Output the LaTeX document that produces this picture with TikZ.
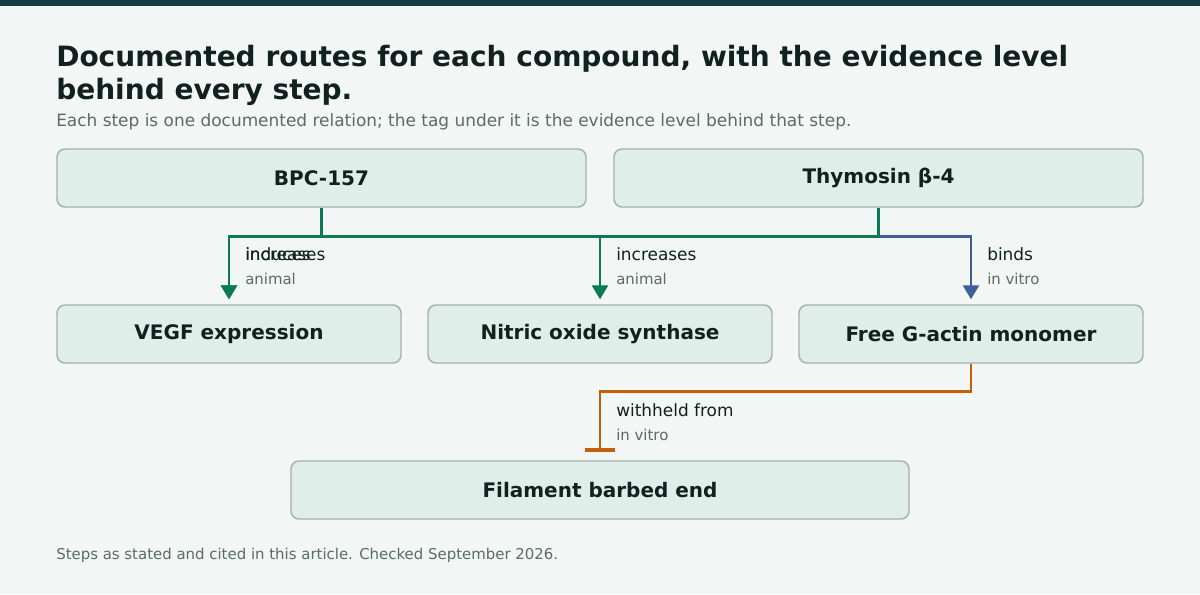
\documentclass[tikz,border=0pt]{standalone}
\usepackage{fontspec}
\setmainfont{DejaVu Sans}
\usetikzlibrary{arrows.meta}

\definecolor{pagebg}{HTML}{F2F6F4}
\definecolor{topbar}{HTML}{153D40}
\definecolor{boxfill}{HTML}{E0EEEA}
\definecolor{boxline}{HTML}{A6B0AC}
\definecolor{inktext}{HTML}{10211E}
\definecolor{graytext}{HTML}{5C6B67}
\definecolor{greenline}{HTML}{0A7A58}
\definecolor{blueline}{HTML}{3F5F98}
\definecolor{orangeline}{HTML}{C2600C}

\tikzset{
    entity/.style={draw=boxline, line width=1.1pt, fill=boxfill, rounded corners=6pt,
        minimum height=43.5pt, text=inktext, font=\fontsize{15}{18}\selectfont\bfseries},
    relation/.style={anchor=base west, inner sep=0pt, text=inktext, font=\fontsize{12.7}{15}\selectfont},
    evidence/.style={anchor=base west, inner sep=0pt, text=graytext, font=\fontsize{11.2}{13}\selectfont},
    pathline/.style={line width=2pt, -{Triangle[length=10.5pt,width=12pt]}, shorten >=3.75pt},
    blockline/.style={line width=2pt, -{Bar[width=22.5pt,line width=3pt]}, shorten >=6pt}
}

\begin{document}
\begin{tikzpicture}[x=0.75pt, y=-0.75pt]
        \useasboundingbox (0,0) rectangle (1200,594);
        \fill [pagebg] (0,0) rectangle (1200,594);
        \fill [topbar] (0,0) rectangle (1200,6);

        % heading
        \node (title1) [anchor=base west, inner sep=0pt, text=inktext,
            font=\fontsize{21}{24}\selectfont\bfseries] at (56,66)
            {Documented routes for each compound, with the evidence level};
        \node (title2) [anchor=base west, inner sep=0pt, text=inktext,
            font=\fontsize{21}{24}\selectfont\bfseries] at (56,99) {behind every step.};
        \node (subtitle) [anchor=base west, inner sep=0pt, text=graytext,
            font=\fontsize{12.7}{15}\selectfont] at (56,126)
            {Each step is one documented relation; the tag under it is the evidence level behind that step.};

        % compounds and targets
        \node (bpc) [entity, minimum width=396.75pt] at (321.5,178) {BPC-157};
        \node (thy) [entity, minimum width=396.75pt] at (878.5,178) {Thymosin β-4};
        \node (vegf) [entity, minimum width=258pt] at (229,334) {VEGF expression};
        \node (nos) [entity, minimum width=258pt] at (600,334) {Nitric oxide synthase};
        \node (actin) [entity, minimum width=258pt] at (971,334) {Free G-actin monomer};
        \node (barbed) [entity, minimum width=463.5pt] at (600,490) {Filament barbed end};

        % steps
        \draw [pathline, blueline] (thy.south) -- ++(0,29) -| (actin.north);
        \draw [pathline, greenline] (bpc.south) -- ++(0,29) -| (vegf.north);
        \draw [pathline, greenline] (bpc.south) -- ++(0,29) -| (nos.north);
        \draw [pathline, greenline] (thy.south) -- ++(0,29) -| (vegf.north);
        \draw [blockline, orangeline] (actin.south) -- ++(0,28) -| (barbed.north);

        % step labels and evidence tags
        \node (lab1) [relation] at (245,260) {increases};
        \node (lab2) [relation] at (245,260) {induces};
        \node (tag1) [evidence] at (245,284) {animal};
        \node (lab3) [relation] at (616,260) {increases};
        \node (tag3) [evidence] at (616,284) {animal};
        \node (lab4) [relation] at (987,260) {binds};
        \node (tag4) [evidence] at (987,284) {in vitro};
        \node (lab5) [relation] at (616,416) {withheld from};
        \node (tag5) [evidence] at (616,440) {in vitro};

        \node (footer) [anchor=base west, inner sep=0pt, text=graytext,
            font=\fontsize{11.2}{13}\selectfont] at (56,559)
            {Steps as stated and cited in this article. Checked September 2026.};
    \end{tikzpicture}
\end{document}
